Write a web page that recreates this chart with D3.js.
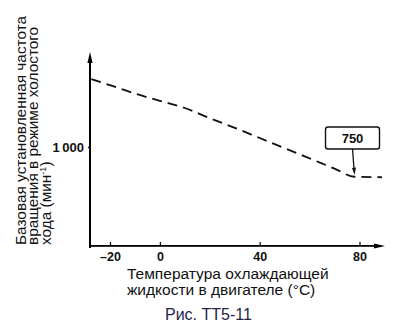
<!DOCTYPE html>
<html><head><meta charset="utf-8">
<script src="https://cdn.jsdelivr.net/npm/d3@7"></script>
<style>body{margin:0;background:#fff}svg{display:block}</style>
</head><body>
<svg id="c" width="412" height="333"></svg>
<script>
const temps = [-27.5, -20, -10, 0, 10, 20, 30, 40, 50, 60, 70, 78, 89];
const rpm   = [1565, 1515, 1445, 1385, 1325, 1240, 1160, 1075, 990, 905, 820, 752, 748];
const xTicks = [-20, 0, 40, 80];
const xTickLabels = ["–20", "0", "40", "80"];
const yTicks = [1000];
const yTickLabels = ["1\u2009000"];
const annotation = {t: 78, v: 750, label: "750"};
const yTitle = ["Базовая установленная частота", "вращения в режиме холостого", "хода (мин"];
const xTitle = ["Температура охлаждающей", "жидкости в двигателе (°C)"];
const caption = "Рис. ТТ5-11";

const svg = d3.select("#c");
const x = d3.scaleLinear().domain([-20, 80]).range([110, 359.5]);
const y = d3.scaleLinear().domain([1000, 750]).range([147, 177]);
const x0 = 90, y0 = 246;
const ink = "#111";

// y title
const yt = svg.append("text").attr("transform", "translate(0,245) rotate(-90)")
  .attr("font-family", "Liberation Sans, Arial, sans-serif").attr("font-size", 15.4).attr("fill", ink);
[25.5, 38.3, 51].forEach((b, i) => {
  yt.append("tspan").attr("x", 0).attr("y", b).text(yTitle[i]);
});
yt.append("tspan").attr("font-size", 9).attr("dy", -5).text("-1");
yt.append("tspan").attr("dy", 5).text(")");

// axes
svg.append("rect").attr("x", 89).attr("y", 58).attr("width", 2).attr("height", 190)
  .attr("fill", "#000");
svg.append("path").attr("d", "M90,52 L87.4,63 L92.6,63 Z").attr("fill", "#000");
svg.append("rect").attr("x", 89).attr("y", 245).attr("width", 290).attr("height", 1.8)
  .attr("fill", "#000");
svg.append("path").attr("d", "M385,246 L374,243.4 L374,248.6 Z").attr("fill", "#000");

// x ticks
const xa = d3.axisBottom(x).tickValues(xTicks).tickSizeInner(-4).tickSizeOuter(0)
  .tickFormat((d, i) => xTickLabels[i]).tickPadding(6);
const gx = svg.append("g").attr("transform", `translate(0,${y0})`).call(xa);
gx.select(".domain").remove();
gx.selectAll(".tick line").attr("stroke", ink).attr("stroke-width", 1.3);
gx.selectAll(".tick text").attr("font-family", "Liberation Sans, Arial, sans-serif")
  .attr("font-size", 12.5).attr("font-weight", "bold").attr("fill", ink);

// y ticks
const ya = d3.axisLeft(y).tickValues(yTicks).tickSizeInner(2).tickSizeOuter(0)
  .tickFormat((d, i) => yTickLabels[i]).tickPadding(4);
const gy = svg.append("g").attr("transform", `translate(${x0},0)`).call(ya);
gy.select(".domain").remove();
gy.selectAll(".tick line").attr("stroke", ink).attr("stroke-width", 1.3);
gy.selectAll(".tick text").attr("font-family", "Liberation Sans, Arial, sans-serif")
  .attr("font-size", 13).attr("font-weight", "bold").attr("fill", ink);

// curve
const pts = temps.map((t, i) => [x(t), y(rpm[i])]);
svg.append("path").attr("d", d3.line().curve(d3.curveMonotoneX)(pts))
  .attr("fill", "none").attr("stroke", ink).attr("stroke-width", 1.8)
  .attr("stroke-dasharray", "10,6");

// annotation box
const ax = x(annotation.t), ay = y(annotation.v);
const bx = ax - 29, by = ay - 50, bw = 54, bh = 22;
svg.append("rect").attr("x", bx).attr("y", by).attr("width", bw).attr("height", bh)
  .attr("rx", 2.5).attr("fill", "#fff").attr("stroke", ink).attr("stroke-width", 1.4);
svg.append("text").attr("x", bx + bw/2).attr("y", by + 16).attr("text-anchor", "middle")
  .attr("font-family", "Liberation Sans, Arial, sans-serif").attr("font-size", 13)
  .attr("font-weight", "bold").attr("fill", ink).text(annotation.label);
svg.append("line").attr("x1", bx + 27).attr("y1", by + bh).attr("x2", ax - 0.5).attr("y2", ay - 8)
  .attr("stroke", ink).attr("stroke-width", 1.3);
svg.append("path").attr("d", `M${ax},${ay-2} L${ax-2.5},${ay-9} L${ax+1.5},${ay-9.5} Z`).attr("fill", ink);

// x title
const xt = svg.append("text").attr("font-family", "Liberation Sans, Arial, sans-serif")
  .attr("font-size", 15.5).attr("fill", ink);
xt.append("tspan").attr("x", 127).attr("y", 279).text(xTitle[0]);
xt.append("tspan").attr("x", 127).attr("y", 295).text(xTitle[1]);

// caption
svg.append("text").attr("x", 165).attr("y", 320).attr("font-family", "Liberation Sans, Arial, sans-serif")
  .attr("font-size", 16).attr("fill", "#1f2448").text(caption);
</script>
</body></html>
